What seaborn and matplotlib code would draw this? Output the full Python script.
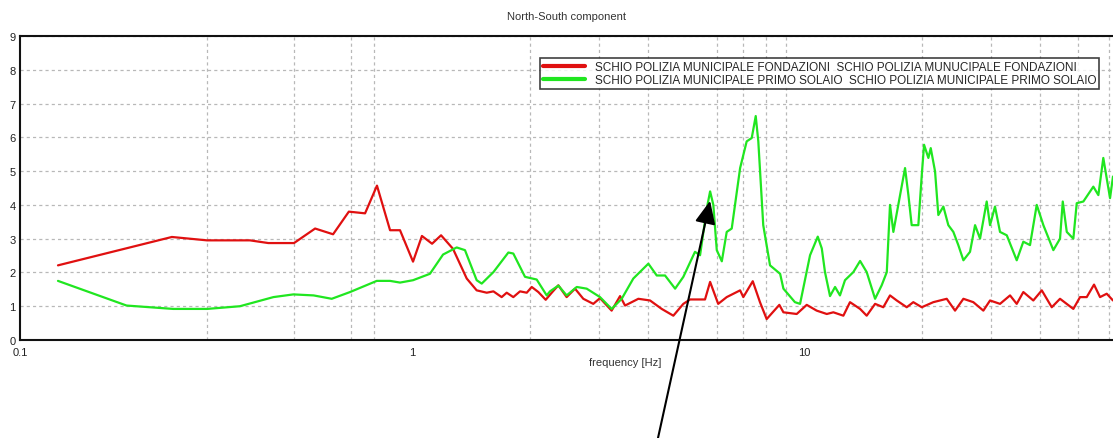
import matplotlib
matplotlib.use("Agg")
import matplotlib.pyplot as plt
import seaborn as sns
import pandas as pd
from matplotlib.ticker import FixedLocator, NullFormatter

# ---------------- data ----------------
title = "North-South component"
xlabel = "frequency [Hz]"
red_label = "SCHIO POLIZIA MUNICIPALE FONDAZIONI  SCHIO POLIZIA MUNUCIPALE FONDAZIONI"
green_label = "SCHIO POLIZIA MUNICIPALE PRIMO SOLAIO  SCHIO POLIZIA MUNICIPALE PRIMO SOLAIO"

red_freq = [0.125, 0.244, 0.30, 0.386, 0.43, 0.50, 0.566, 0.629, 0.69, 0.759, 0.814, 0.879,
            0.932, 1.006, 1.06, 1.125, 1.186, 1.272, 1.379, 1.462, 1.551, 1.613, 1.693, 1.744,
            1.813, 1.886, 1.962, 2.02, 2.10, 2.193, 2.272, 2.362, 2.48, 2.605, 2.735, 2.90,
            3.017, 3.23, 3.394, 3.495, 3.779, 4.048, 4.335, 4.641, 4.922, 5.12, 5.59, 5.76,
            6.04, 6.35, 6.87, 7.00, 7.40, 7.72, 8.03, 8.65, 8.86, 9.58, 10.16, 10.77, 11.43,
            11.88, 12.60, 13.10, 13.90, 14.45, 15.18, 15.93, 16.57, 17.24, 18.28, 19.00, 19.97,
            21.37, 23.12, 24.28, 25.50, 27.03, 28.67, 29.82, 31.62, 33.54, 34.88, 36.26, 38.45,
            40.41, 42.85, 44.98, 48.64, 50.59, 52.62, 54.93, 56.90, 59.18, 61.4]
red_vals = [2.21, 3.05, 2.95, 2.95, 2.87, 2.87, 3.30, 3.13, 3.80, 3.75, 4.57, 3.25,
            3.25, 2.32, 3.08, 2.85, 3.10, 2.70, 1.82, 1.47, 1.40, 1.44, 1.27, 1.40,
            1.27, 1.44, 1.40, 1.57, 1.42, 1.19, 1.40, 1.62, 1.27, 1.52, 1.22, 1.07,
            1.24, 0.87, 1.30, 1.02, 1.22, 1.17, 0.92, 0.72, 1.07, 1.20, 1.20, 1.72,
            1.07, 1.27, 1.47, 1.27, 1.74, 1.12, 0.62, 1.04, 0.82, 0.77, 1.04, 0.87, 0.77,
            0.82, 0.72, 1.12, 0.92, 0.72, 1.07, 0.97, 1.32, 1.17, 0.97, 1.12, 0.97,
            1.12, 1.22, 0.87, 1.22, 1.12, 0.87, 1.17, 1.07, 1.32, 1.07, 1.42, 1.17,
            1.47, 0.97, 1.22, 0.92, 1.27, 1.27, 1.64, 1.27, 1.37, 1.17]

green_freq = [0.125, 0.187, 0.246, 0.30, 0.364, 0.443, 0.498, 0.561, 0.624, 0.695, 0.813, 0.879,
              0.932, 1.006, 1.111, 1.20, 1.30, 1.365, 1.462, 1.506, 1.613, 1.761, 1.813, 1.942,
              2.08, 2.206, 2.249, 2.362, 2.48, 2.632, 2.79, 3.017, 3.23, 3.427, 3.669, 4.008,
              4.21, 4.42, 4.69, 4.922, 5.27, 5.43, 5.65, 5.76, 5.87, 5.99, 6.17, 6.35, 6.54,
              6.87, 7.14, 7.355, 7.53, 7.645, 7.87, 8.19, 8.69, 8.86, 9.48, 9.77, 10.36, 10.84,
              11.10, 11.31, 11.65, 12.00, 12.35, 12.72, 13.36, 13.90, 14.45, 15.18, 15.78,
              16.26, 16.57, 16.90, 17.58, 18.10, 18.46, 18.82, 19.57, 19.97, 20.24, 20.76,
              21.05, 21.59, 22.01, 22.67, 23.34, 24.04, 24.75, 25.50, 26.51, 27.31, 28.12,
              29.24, 29.82, 30.70, 31.62, 32.90, 34.88, 36.26, 37.71, 39.23, 40.79, 43.25,
              44.98, 45.71, 46.80, 48.64, 49.62, 51.59, 54.70, 56.34, 58.0, 60.34, 61.4]
green_vals = [1.75, 1.02, 0.92, 0.92, 1.00, 1.27, 1.35, 1.32, 1.22, 1.42, 1.75, 1.75,
              1.70, 1.77, 1.96, 2.53, 2.74, 2.66, 1.77, 1.67, 2.01, 2.59, 2.56, 1.87,
              1.79, 1.32, 1.44, 1.61, 1.32, 1.57, 1.52, 1.27, 0.92, 1.22, 1.82, 2.26,
              1.91, 1.91, 1.52, 1.87, 2.61, 2.51, 3.90, 4.40, 4.00, 2.66, 2.33, 3.20, 3.30,
              5.09, 5.88, 5.98, 6.63, 5.88, 3.40, 2.21, 1.96, 1.52, 1.12, 1.07, 2.51, 3.06,
              2.71, 2.01, 1.30, 1.57, 1.32, 1.77, 2.01, 2.34, 2.01, 1.22, 1.62,
              2.01, 4.00, 3.20, 4.29, 5.09, 4.29, 3.40, 3.40, 4.89, 5.78, 5.39,
              5.68, 4.99, 3.70, 3.95, 3.40, 3.20, 2.81, 2.36, 2.61, 3.40, 3.00,
              4.10, 3.40, 3.95, 3.20, 3.10, 2.36, 2.91, 2.81, 4.00, 3.40, 2.66,
              3.00, 4.10, 3.20, 3.00, 4.05, 4.10, 4.54, 4.29, 5.39, 4.20, 4.84]

y_ticks = [0, 1, 2, 3, 4, 5, 6, 7, 8, 9]
x_ticks = [0.1, 1, 10]
x_ticklabels = ["0.1", "1", "10"]
x_grid = [0.3, 0.5, 0.7, 0.8, 1, 2, 3, 4, 6, 7, 8, 9, 10, 20, 30, 40, 50, 60]

# ---------------- style ----------------
sns.set_style("white")
plt.rcParams["font.family"] = ["Liberation Sans", "DejaVu Sans"]

RED = "#e01010"
GREEN = "#20e620"

fig = plt.figure(figsize=(11.13, 4.39), dpi=100)
ax = fig.add_axes([20 / 1113, 1 - 341 / 439, 1093 / 1113, 304 / 439])
ax.set_xscale("log")

df_red = pd.DataFrame({"freq": red_freq, "val": red_vals})
df_green = pd.DataFrame({"freq": green_freq, "val": green_vals})
sns.lineplot(data=df_red, x="freq", y="val", ax=ax, color=RED, lw=1.6,
             estimator=None, label=red_label)
sns.lineplot(data=df_green, x="freq", y="val", ax=ax, color=GREEN, lw=1.6,
             estimator=None, label=green_label)

ax.set_xlim(0.1, 61.4)
ax.set_ylim(0, 9)

ax.xaxis.set_major_locator(FixedLocator(x_ticks))
ax.set_xticklabels(x_ticklabels)
ax.xaxis.set_minor_locator(FixedLocator(x_grid))
ax.xaxis.set_minor_formatter(NullFormatter())
ax.set_yticks(y_ticks)
ax.tick_params(axis="both", which="both", length=0, labelsize=8, colors="#222222")
ax.tick_params(axis="y", pad=3)
ax.tick_params(axis="x", pad=5)

ax.grid(False)
ax.xaxis.grid(True, which="minor", color="#b8b8b8", linestyle=(0, (2.5, 2.5)), lw=0.9)
ax.yaxis.grid(True, which="major", color="#b8b8b8", linestyle=(0, (2.5, 2.5)), lw=0.9)

for s in ["top", "left", "bottom"]:
    ax.spines[s].set_visible(True)
    ax.spines[s].set_color("#111111")
    ax.spines[s].set_linewidth(1.5)
ax.spines["right"].set_visible(False)

ax.set_title(title, fontsize=8, color="#333333", pad=12)
ax.set_xlabel(xlabel, fontsize=8, color="#333333")
ax.xaxis.set_label_coords((625 - 20) / 1093, -0.055)
ax.set_ylabel("")

leg = ax.legend(loc="upper right", bbox_to_anchor=((1099 - 20) / 1093, (341 - 59) / 304),
                fontsize=8.5, frameon=True, fancybox=False, shadow=False,
                borderaxespad=0, borderpad=0.25, handlelength=3.5, handletextpad=0.85,
                labelspacing=0.12)
leg.get_frame().set_edgecolor("#111111")
leg.get_frame().set_linewidth(1.2)
for line in leg.get_lines():
    line.set_linewidth(3)

ax.annotate("", xy=(5.76, 4.12), xycoords="data",
            xytext=(658 / 1113, 0.0), textcoords="figure fraction",
            arrowprops=dict(arrowstyle="-|>,head_length=1.0,head_width=0.45",
                            color="black", lw=1.5, mutation_scale=14,
                            shrinkA=0, shrinkB=0),
            annotation_clip=False)

fig.savefig("out.png", dpi=100)
